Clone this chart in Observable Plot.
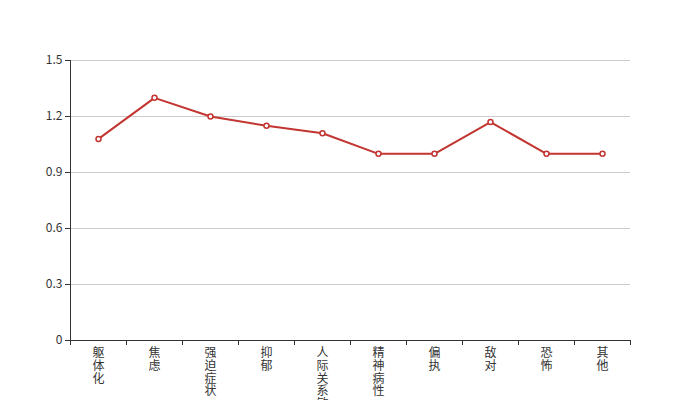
<!DOCTYPE html>
<html>
<head>
<meta charset="utf-8">
<script src="https://cdn.jsdelivr.net/npm/d3@7"></script>
<script src="https://cdn.jsdelivr.net/npm/@observablehq/plot@0.6"></script>
<style>
  html, body { margin: 0; padding: 0; background: #fff; }
  svg { display: block; }
</style>
</head>
<body>
<div id="chart"></div>
<script>
const categories = ["躯体化", "焦虑", "强迫症状", "抑郁", "人际关系敏感", "精神病性", "偏执", "敌对", "恐怖", "其他"];
const values = [1.08, 1.30, 1.20, 1.15, 1.11, 1.00, 1.00, 1.17, 1.00, 1.00];
const yTicks = [0, 0.3, 0.6, 0.9, 1.2, 1.5];

const data = categories.map((c, i) => ({ name: c, idx: i + 0.5, value: values[i] }));
const boundaries = d3.range(categories.length + 1);
const font = "'Noto Sans CJK SC', 'Noto Sans', sans-serif";

const chart = Plot.plot({
  width: 700,
  height: 400,
  marginLeft: 70,
  marginRight: 70,
  marginTop: 60,
  marginBottom: 60,
  style: { fontFamily: font, fontSize: "12px", background: "#fff", overflow: "hidden" },
  x: { type: "linear", domain: [0, categories.length] },
  y: { domain: [0, 1.5] },
  marks: [
    Plot.gridY(yTicks.slice(1), { stroke: "#ccc", strokeOpacity: 1, strokeWidth: 1 }),
    Plot.axisY(yTicks, { tickSize: 5, tickPadding: 3, fontSize: 12, stroke: "#333", color: "#333", tickFormat: d => String(d), label: null }),
    Plot.ruleX([0], { stroke: "#333" }),
    Plot.ruleY([0], { stroke: "#333" }),
    Plot.axisX(boundaries, { tickSize: 5, stroke: "#333", tickFormat: () => "", label: null }),
    Plot.text(data, {
      x: "idx", y: () => 0,
      text: d => d.name.split("").join("\n"),
      lineAnchor: "top", dy: 8, lineHeight: 1.05,
      fill: "#333", fontSize: 12
    }),
    Plot.line(data, { x: "idx", y: "value", stroke: "#c23531", strokeWidth: 2 }),
    Plot.dot(data, { x: "idx", y: "value", r: 2.5, fill: "#fff", stroke: "#c23531", strokeWidth: 1.5 })
  ]
});
document.getElementById("chart").appendChild(chart);
</script>
</body>
</html>
